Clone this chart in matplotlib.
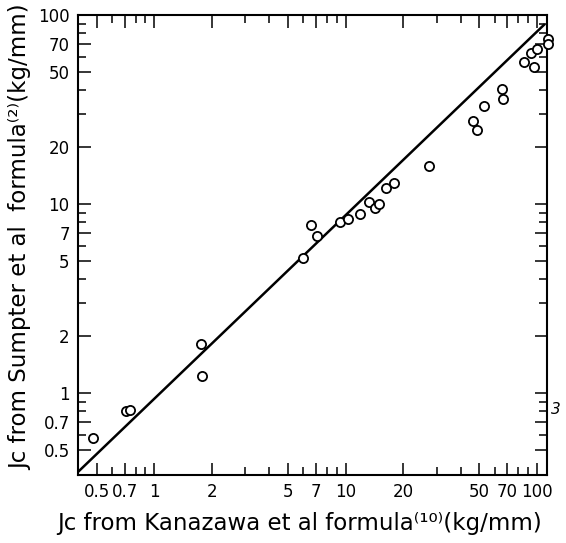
import matplotlib
matplotlib.use("Agg")
import matplotlib.pyplot as plt
from matplotlib.ticker import FixedLocator, FixedFormatter, NullFormatter

# Critical current density, Kanazawa et al formula (x) vs Sumpter et al formula (y), kg/mm
jc_kanazawa = [0.48, 0.71, 0.75, 1.76, 1.78, 6.0, 6.6, 7.1, 9.4, 10.3, 11.9,
               13.2, 14.3, 15.0, 16.3, 17.9, 27.3, 46.5, 48.4, 53.0, 65.6,
               66.7, 85.8, 92.7, 96.5, 100.4, 114.0, 114.0]
jc_sumpter = [0.58, 0.80, 0.81, 1.81, 1.23, 5.2, 7.7, 6.8, 8.0, 8.3, 8.8,
              10.2, 9.5, 10.0, 12.1, 12.9, 15.9, 27.5, 24.6, 33.0, 40.8,
              36.1, 56.6, 62.7, 53.2, 65.9, 75.0, 70.3]

# Reference (agreement) line end points
ref_x = [0.40, 110.0]
ref_y = [0.382, 89.6]

tick_values = [0.5, 0.7, 1, 2, 5, 7, 10, 20, 50, 70, 100]
tick_labels = ["0.5", "0.7", "1", "2", "5", "7", "10", "20", "50", "70", "100"]
minor_values = [0.6, 0.8, 0.9, 3, 4, 6, 8, 9, 30, 40, 60, 80, 90]

fig = plt.figure(figsize=(5.66, 5.43), dpi=100)
ax = fig.add_axes([0.1378, 0.1252, 0.8286, 0.8472])

ax.set_xscale("log")
ax.set_yscale("log")
ax.set_xlim(0.40, 112.8)
ax.set_ylim(0.368, 100)

ax.plot(ref_x, ref_y, color="black", lw=1.8, solid_capstyle="butt")
ax.plot(jc_kanazawa, jc_sumpter, linestyle="none", marker="o", ms=6.6,
        mfc="white", mec="black", mew=1.3, clip_on=False, zorder=3)

for axis in (ax.xaxis, ax.yaxis):
    axis.set_major_locator(FixedLocator(tick_values))
    axis.set_major_formatter(FixedFormatter(tick_labels))
    axis.set_minor_locator(FixedLocator(minor_values))
    axis.set_minor_formatter(NullFormatter())

ax.tick_params(which="both", direction="in", top=True, right=True,
               width=1.1, colors="black", labelsize=12)
ax.tick_params(which="major", length=9, pad=6)
ax.tick_params(which="minor", length=6)

for s in ax.spines.values():
    s.set_linewidth(1.5)

ax.set_xlabel("Jc from Kanazawa et al formula⁽¹⁰⁾(kg/mm)", fontsize=16.5, labelpad=8)
ax.set_ylabel("Jc from Sumpter et al  formula⁽²⁾(kg/mm)", fontsize=16.5, labelpad=4)
ax.xaxis.label.set_x(0.473)
ax.yaxis.label.set_y(0.517)

fig.text(0.982, 1 - 410 / 543, "3", fontsize=11, style="italic", ha="center", va="center")

fig.savefig("out.png", dpi=100)
